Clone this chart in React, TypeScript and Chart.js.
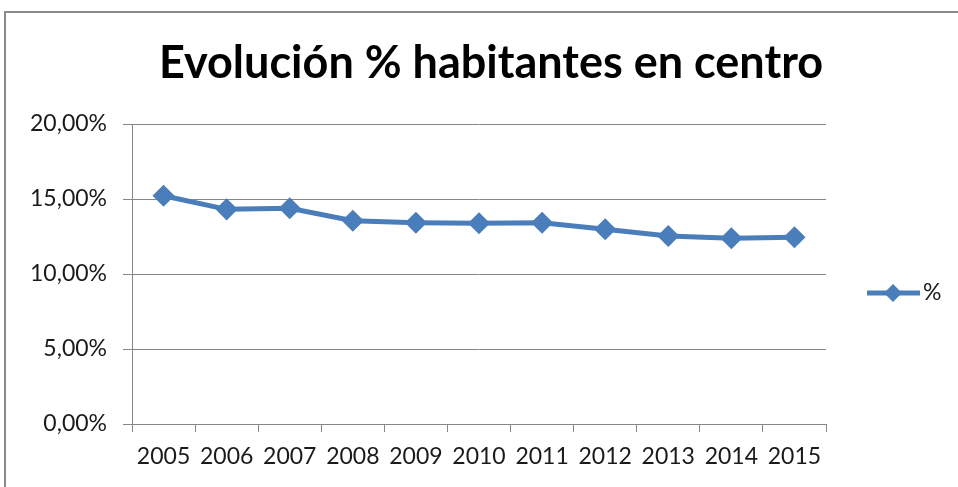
import React, { useEffect, useRef } from "react";
import { Chart, registerables } from "chart.js";

Chart.register(...registerables);

const chartTitle = "Evolución % habitantes en centro";
const seriesName = "%";
const years = ["2005", "2006", "2007", "2008", "2009", "2010", "2011", "2012", "2013", "2014", "2015"];
const pctValues = [15.22, 14.31, 14.38, 13.55, 13.42, 13.38, 13.42, 12.98, 12.53, 12.38, 12.45];
const yMin = 0;
const yMax = 20;
const yStep = 5;

const LINE_COLOR = "#4A7EBB";
const GRID_COLOR = "#868686";
const TEXT_COLOR = "#1a1a1a";
const FONT = "Lato, 'Open Sans', sans-serif";

function fmtPct(v: number): string {
  return v.toFixed(2).replace(".", ",") + "%";
}

const decorPlugin = {
  id: "decor",
  beforeDraw(chart: any) {
    const ctx = chart.ctx;
    ctx.save();
    ctx.fillStyle = "#ffffff";
    ctx.fillRect(0, 0, chart.width, chart.height);
    ctx.strokeStyle = "#8a8a8a";
    ctx.lineWidth = 2;
    ctx.beginPath();
    ctx.moveTo(5, chart.height);
    ctx.lineTo(5, 12);
    ctx.lineTo(chart.width, 12);
    ctx.stroke();
    ctx.restore();
  },
  afterDraw(chart: any) {
    const ctx = chart.ctx;
    ctx.save();
    // title
    ctx.fillStyle = "#000000";
    ctx.font = `bold 45px ${FONT}`;
    ctx.textAlign = "center";
    ctx.textBaseline = "alphabetic";
    ctx.fillText(chartTitle, 491, 78);
    // legend
    const ly = 293;
    ctx.strokeStyle = LINE_COLOR;
    ctx.lineWidth = 5;
    ctx.beginPath();
    ctx.moveTo(867, ly);
    ctx.lineTo(920, ly);
    ctx.stroke();
    const cx = 893;
    const r = 9;
    ctx.fillStyle = LINE_COLOR;
    ctx.beginPath();
    ctx.moveTo(cx - r, ly);
    ctx.lineTo(cx, ly - r);
    ctx.lineTo(cx + r, ly);
    ctx.lineTo(cx, ly + r);
    ctx.closePath();
    ctx.fill();
    ctx.fillStyle = TEXT_COLOR;
    ctx.font = `23px ${FONT}`;
    ctx.textAlign = "left";
    ctx.textBaseline = "middle";
    ctx.fillText(seriesName, 923, ly);
    ctx.restore();
  },
};

export default function App() {
  const canvasRef = useRef<HTMLCanvasElement | null>(null);

  useEffect(() => {
    const canvas = canvasRef.current;
    if (!canvas) return;
    const chart = new Chart(canvas, {
      type: "line",
      data: {
        labels: years,
        datasets: [
          {
            label: seriesName,
            data: pctValues,
            borderColor: LINE_COLOR,
            backgroundColor: LINE_COLOR,
            borderWidth: 5,
            pointStyle: "rectRot",
            pointRadius: 10,
            pointBorderWidth: 1.5,
            pointBackgroundColor: LINE_COLOR,
            pointBorderColor: LINE_COLOR,
            tension: 0,
            fill: false,
          },
        ],
      },
      options: {
        responsive: false,
        animation: false,
        devicePixelRatio: 1,
        layout: { padding: { top: 124, right: 132, bottom: 0, left: 0 } },
        plugins: {
          legend: { display: false },
          title: { display: false },
          tooltip: { enabled: false },
        },
        scales: {
          x: {
            type: "category",
            offset: true,
            grid: {
              display: true,
              drawOnChartArea: false,
              drawTicks: true,
              tickLength: 8,
              offset: true,
              color: GRID_COLOR,
            },
            border: { display: true, color: GRID_COLOR, width: 1 },
            ticks: {
              color: TEXT_COLOR,
              font: { family: FONT, size: 23 },
              padding: 11,
              maxRotation: 0,
              autoSkip: false,
            },
            afterFit: (s: any) => {
              s.height = 63;
            },
          },
          y: {
            min: yMin,
            max: yMax,
            grid: { color: GRID_COLOR, tickLength: 9 },
            border: { display: true, color: GRID_COLOR, width: 1 },
            ticks: {
              stepSize: yStep,
              color: TEXT_COLOR,
              font: { family: FONT, size: 23 },
              padding: 16,
              callback: (v: any) => fmtPct(Number(v)),
            },
            afterFit: (s: any) => {
              s.width = 132;
            },
          },
        },
      },
      plugins: [decorPlugin],
    });
    return () => chart.destroy();
  }, []);

  return (
    <div style={{ position: "absolute", left: 0, top: 0, width: 958, height: 487, background: "#fff" }}>
      <canvas ref={canvasRef} width={958} height={487} style={{ display: "block", width: 958, height: 487 }} />
    </div>
  );
}
